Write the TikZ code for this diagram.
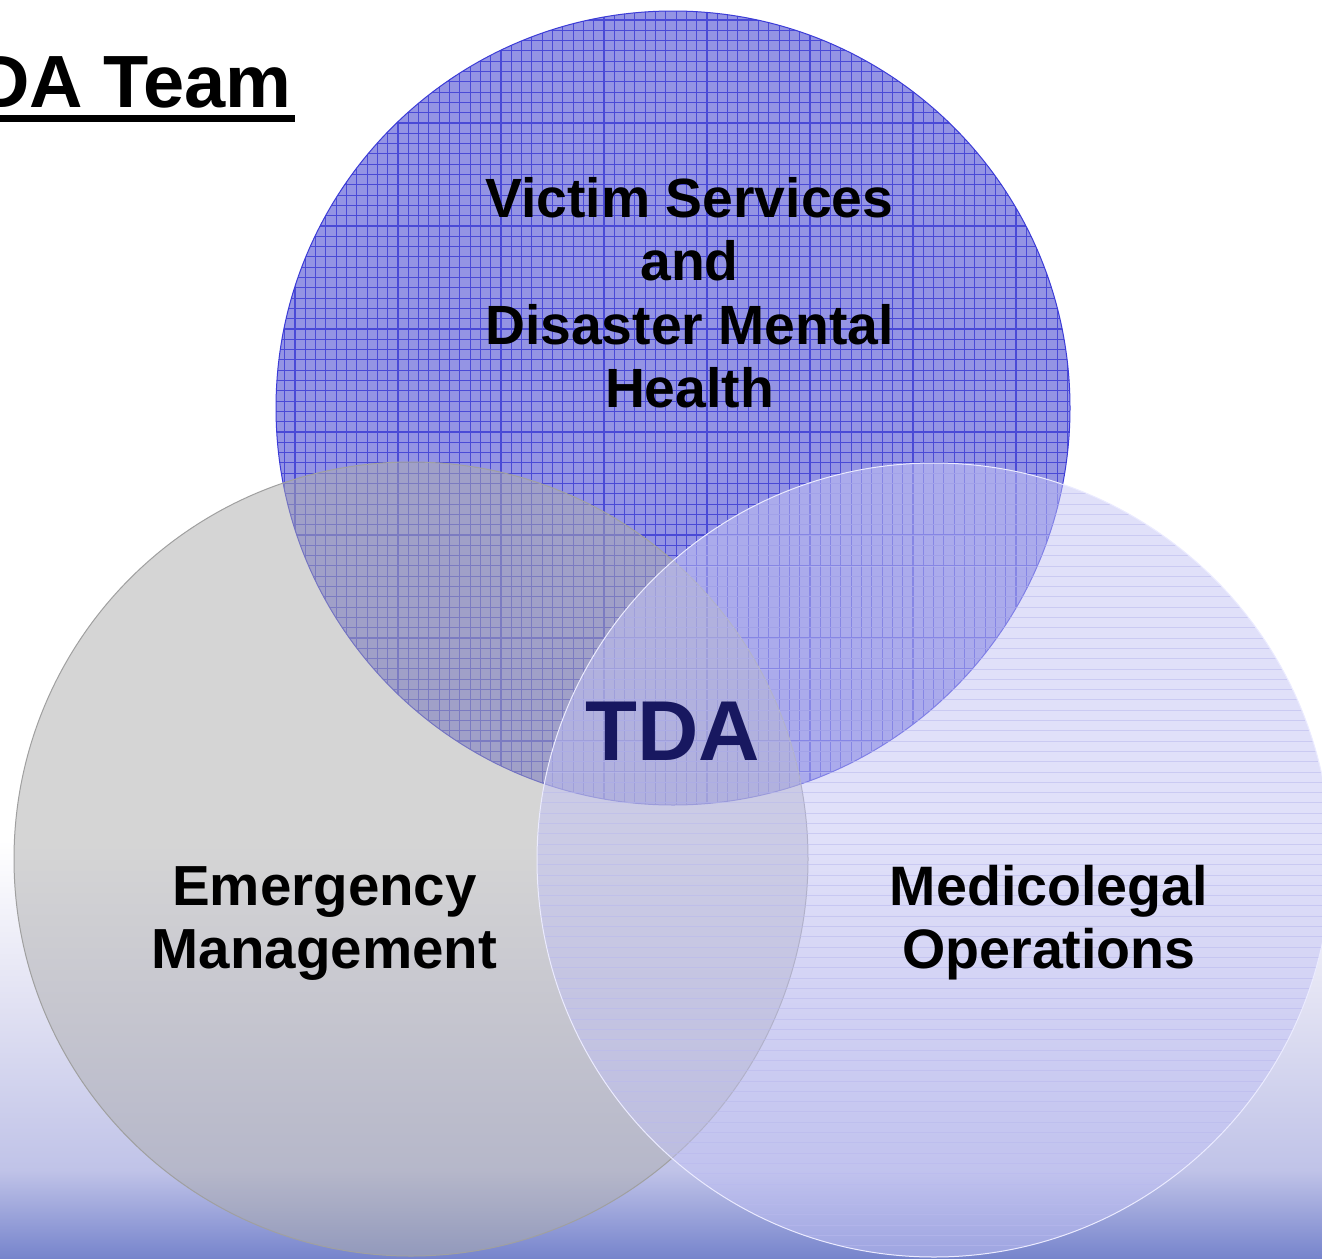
\documentclass[tikz,border=0pt]{standalone}
\usepackage{fontspec}
\setmainfont{Liberation Sans}
\definecolor{bgA}{RGB}{226,226,243}
\definecolor{bgB}{RGB}{192,195,232}
\definecolor{bgC}{RGB}{118,132,204}
\definecolor{vsfill}{RGB}{148,148,228}
\definecolor{vsgrid}{RGB}{74,74,214}
\definecolor{vsedge}{RGB}{60,60,215}
\definecolor{emfill}{RGB}{173,173,173}
\definecolor{emedge}{RGB}{160,160,160}
\definecolor{mofill}{RGB}{195,195,245}
\definecolor{moline}{RGB}{185,185,238}
\definecolor{moedge}{RGB}{235,235,255}
\definecolor{tdacol}{RGB}{24,24,96}
\tikzset{
  lbl/.style={font=\bfseries\fontsize{55.3}{63.5}\selectfont, align=center, inner sep=0pt, text=black},
  ttl/.style={font=\bfseries\fontsize{74}{80}\selectfont, inner sep=0pt, text=black},
  tdalbl/.style={font=\bfseries\fontsize{85}{90}\selectfont, inner sep=0pt, text=tdacol},
}
\begin{document}
\begin{tikzpicture}[x=1pt,y=-1pt]
\useasboundingbox (0,0) rectangle (1322,1258);
% background
\fill[white] (0,0) rectangle (1322,1258);
\shade[top color=white, bottom color=bgA] (0,840) rectangle (1322,1000);
\shade[top color=bgA, bottom color=bgB] (0,1000) rectangle (1322,1170);
\shade[top color=bgB, bottom color=bgC] (0,1170) rectangle (1322,1258.5);
% top circle: Victim Services
\begin{scope}
  \clip (673,408) circle[radius=397pt];
  \fill[vsfill] (270,5) rectangle (1076,811);
  \foreach \i in {0,...,79} {
    \draw[vsgrid, line width=1.1pt] ({274.4+\i*10.3},5) -- ({274.4+\i*10.3},811);
    \draw[vsgrid, line width=1.1pt] (270,{9.7+\i*10.3}) -- (1076,{9.7+\i*10.3});
  }
\end{scope}
\draw[vsedge, line width=1pt] (673,408) circle[radius=397pt];
% left circle: Emergency Management
\fill[emfill, fill opacity=0.5] (411,859) circle[radius=397pt];
\draw[emedge, line width=1pt] (411,859) circle[radius=397pt];
% right circle: Medicolegal Operations
\fill[mofill, fill opacity=0.5] (934,860) circle[radius=397pt];
\begin{scope}
  \clip (934,860) circle[radius=397pt];
  \foreach \i in {0,...,78} {
    \draw[moline, line width=0.9pt, opacity=0.55] (530,{463+\i*10.3}) -- (1340,{463+\i*10.3});
  }
\end{scope}
\draw[moedge, line width=1pt] (934,860) circle[radius=397pt];
% title
\node[ttl, anchor=base east] (title) at (292,107) {DA Team};
\fill[black] (0,115) rectangle (295,122);
% labels
\node[lbl] (vs) at (689.5,292.5) {Victim Services\\and\\Disaster Mental\\Health};
\node[lbl, font=\bfseries\fontsize{56.5}{63}\selectfont] (em) at (324.5,924) {Emergency\\Management};
\node[lbl, font=\bfseries\fontsize{55.6}{63.5}\selectfont] (mo) at (1049,922.5) {Medicolegal\\Operations};
\node[tdalbl, anchor=base] (tda) at (672.5,760) {TDA};
\end{tikzpicture}
\end{document}
